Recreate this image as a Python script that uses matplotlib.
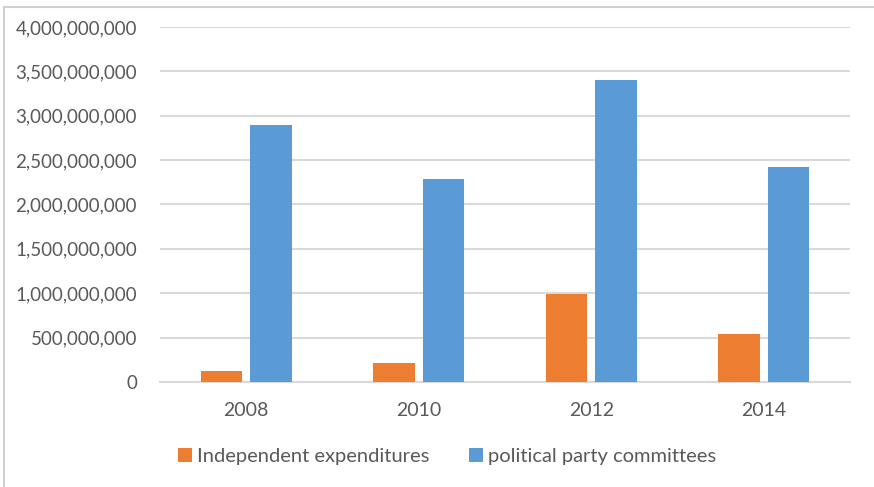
import matplotlib.pyplot as plt
import matplotlib.ticker as mticker
from matplotlib.lines import Line2D
import numpy as np

years = ["2008", "2010", "2012", "2014"]
independent = [127e6, 210e6, 990e6, 537e6]
party = [2892e6, 2287e6, 3403e6, 2426e6]

plt.rcParams['font.family'] = ['Lato', 'DejaVu Sans']

fig = plt.figure(figsize=(8.74, 4.87), dpi=100)
ax = fig.add_axes([160 / 874, 1 - 382 / 487, 690 / 874, 355 / 487])

x = np.arange(len(years))
width = 0.24
off = 0.143
ax.bar(x - off, independent, width, color='#ed7d31', label='Independent expenditures', zorder=3)
ax.bar(x + off, party, width, color='#5b9bd5', label='political party committees', zorder=3)

ax.set_xlim(-0.5, len(years) - 0.5)
ax.set_ylim(0, 4e9)
ax.set_yticks(np.arange(0, 4.01e9, 5e8))
ax.yaxis.set_major_formatter(mticker.FuncFormatter(lambda v, p: f"{int(v):,}"))
ax.set_xticks(x)
ax.set_xticklabels(years)

ax.grid(axis='y', color='#d9d9d9', linewidth=1.5, zorder=0)
for s in ['top', 'right', 'left']:
    ax.spines[s].set_visible(False)
ax.spines['bottom'].set_color('#d9d9d9')
ax.spines['bottom'].set_linewidth(1.5)
ax.tick_params(axis='both', length=0, colors='#595959')
ax.tick_params(axis='y', pad=16.5, labelsize=13.5)
ax.tick_params(axis='x', pad=14.5, labelsize=14)

leg = ax.legend(loc='center', bbox_to_anchor=(0.416, -0.211), ncol=2, frameon=False,
                fontsize=14.5, handlelength=0.7, handleheight=0.7, handletextpad=0.25,
                columnspacing=2.0)
for t in leg.get_texts():
    t.set_color('#595959')

# outer frame of the chart area
fig.add_artist(Line2D([4 / 874, 1], [1 - 7 / 487, 1 - 7 / 487], color='#d0d0d0', lw=1.5))
fig.add_artist(Line2D([4 / 874, 4 / 874], [0, 1 - 7 / 487], color='#d0d0d0', lw=1.5))

fig.savefig('out.png', dpi=100)
